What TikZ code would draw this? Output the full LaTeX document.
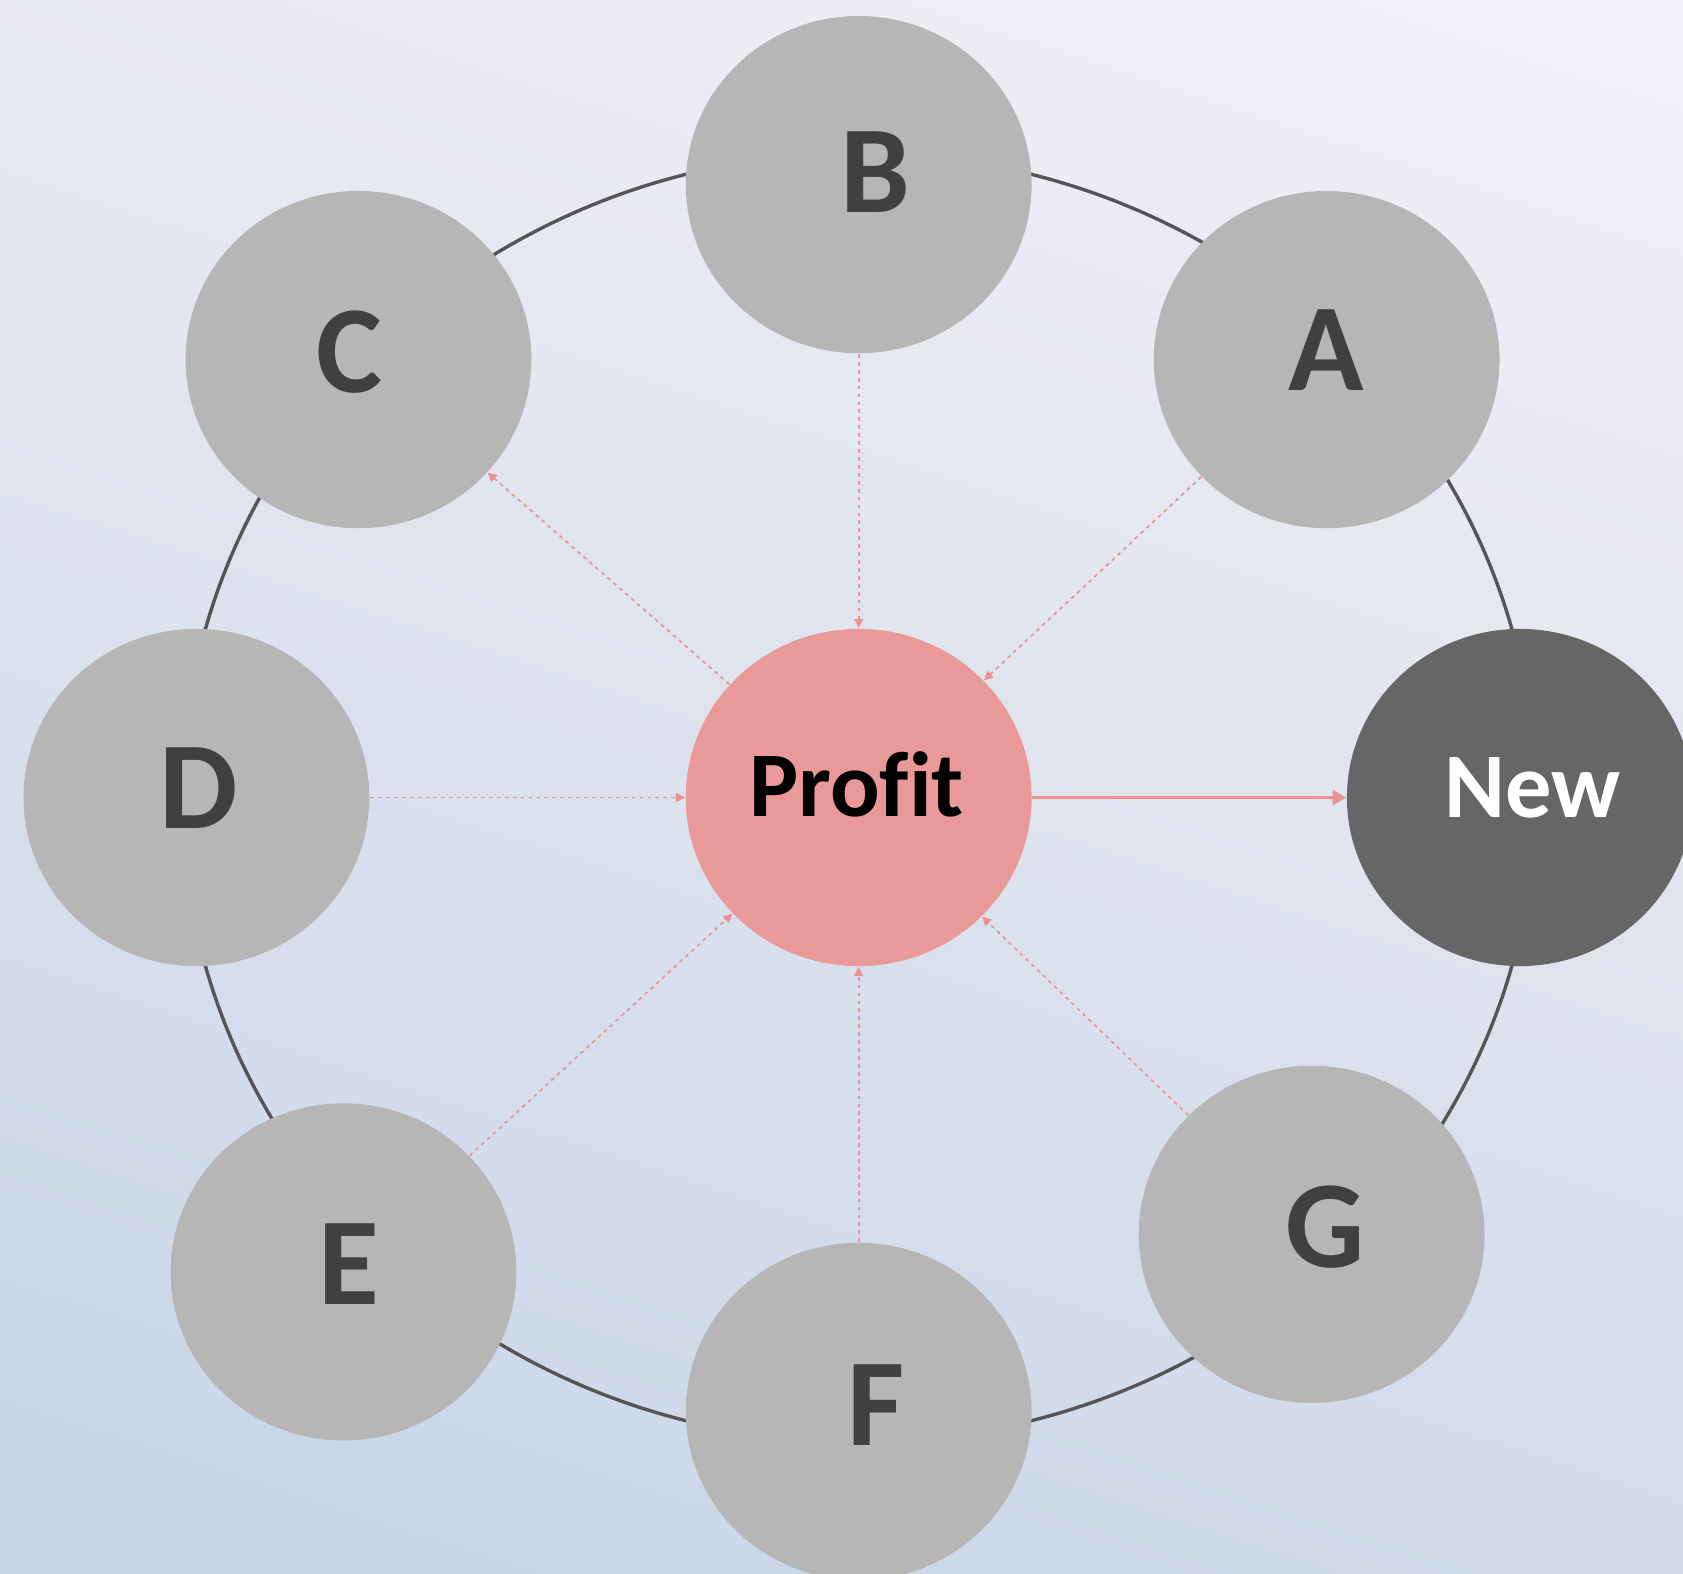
\documentclass[tikz,border=0pt]{standalone}
\usepackage{fontspec}
\setmainfont{Carlito}[Ligatures=CommonOff]
\usetikzlibrary{shapes.geometric,arrows.meta}
\definecolor{nodegray}{RGB}{182,182,182}
\definecolor{txtgray}{RGB}{64,64,64}
\definecolor{newgray}{RGB}{102,102,102}
\definecolor{profitpink}{RGB}{233,153,151}
\definecolor{arrowpink}{RGB}{236,146,146}
\definecolor{ringgray}{RGB}{85,85,85}
\definecolor{bgtop}{RGB}{244,241,246}
\definecolor{bgbot}{RGB}{198,212,230}
\tikzset{
  bubble/.style={ellipse, minimum width=3.22cm, minimum height=3.14cm, inner sep=0pt, fill=nodegray},
  letter/.style={anchor=base, inner sep=0pt, text=txtgray, font=\fontsize{33}{40}\selectfont\bfseries},
  dotarrow/.style={draw=arrowpink, line width=0.45pt, dash pattern=on 1pt off 1.1pt, -{Triangle[length=2.4pt,width=2.4pt]}},
  solidarrow/.style={draw=arrowpink, line width=0.9pt, -{Triangle[length=3.6pt,width=4pt]}},
  ring/.style={draw=ringgray, line width=0.9pt}
}
\begin{document}
\begin{tikzpicture}[x=0.01cm,y=-0.01cm]
\useasboundingbox (0,0) rectangle (1568,1466);
\clip (0,0) rectangle (1568,1466);
\shade[top color=bgtop, bottom color=bgbot, shading angle=-18] (-200,-200) rectangle (1768,1666);
% ring
\draw[ring] (800,743) ellipse [x radius=6.3cm, y radius=6cm];
% nodes
\node[bubble] (B) at (800,172) {};
\node[bubble] (A) at (1236,335) {};
\node[bubble] (C) at (334,335) {};
\node[bubble] (D) at (183,743) {};
\node[bubble, fill=newgray] (New) at (1416,743) {};
\node[bubble] (E) at (320,1185) {};
\node[bubble] (F) at (800,1315) {};
\node[bubble] (G) at (1222,1150) {};
\node[bubble, fill=profitpink] (P) at (800,743) {};
% labels
\node[letter] (tB) at (816,198) {B};
\node[letter] (tA) at (1236,364) {A};
\node[letter] (tC) at (326,366) {C};
\node[letter] (tD) at (185,772) {D};
\node[letter] (tE) at (325,1215) {E};
\node[letter] (tF) at (816,1347) {F};
\node[letter] (tG) at (1235,1181) {G};
\node[letter, text=white, font=\fontsize{24.5}{30}\selectfont\bfseries] (tNew) at (1428,762) {New};
\node[letter, text=black, font=\fontsize{24.5}{30}\selectfont\bfseries] (tP) at (798,761) {Profit};
% connectors
\draw[dotarrow] (B) -- (P);
\draw[dotarrow] (A) -- (P);
\draw[dotarrow] (P) -- (C);
\draw[dotarrow] (D) -- (P);
\draw[dotarrow] (E) -- (P);
\draw[dotarrow] (F) -- (P);
\draw[dotarrow] (G) -- (P);
\draw[solidarrow] (P) -- (New);
\end{tikzpicture}
\end{document}
